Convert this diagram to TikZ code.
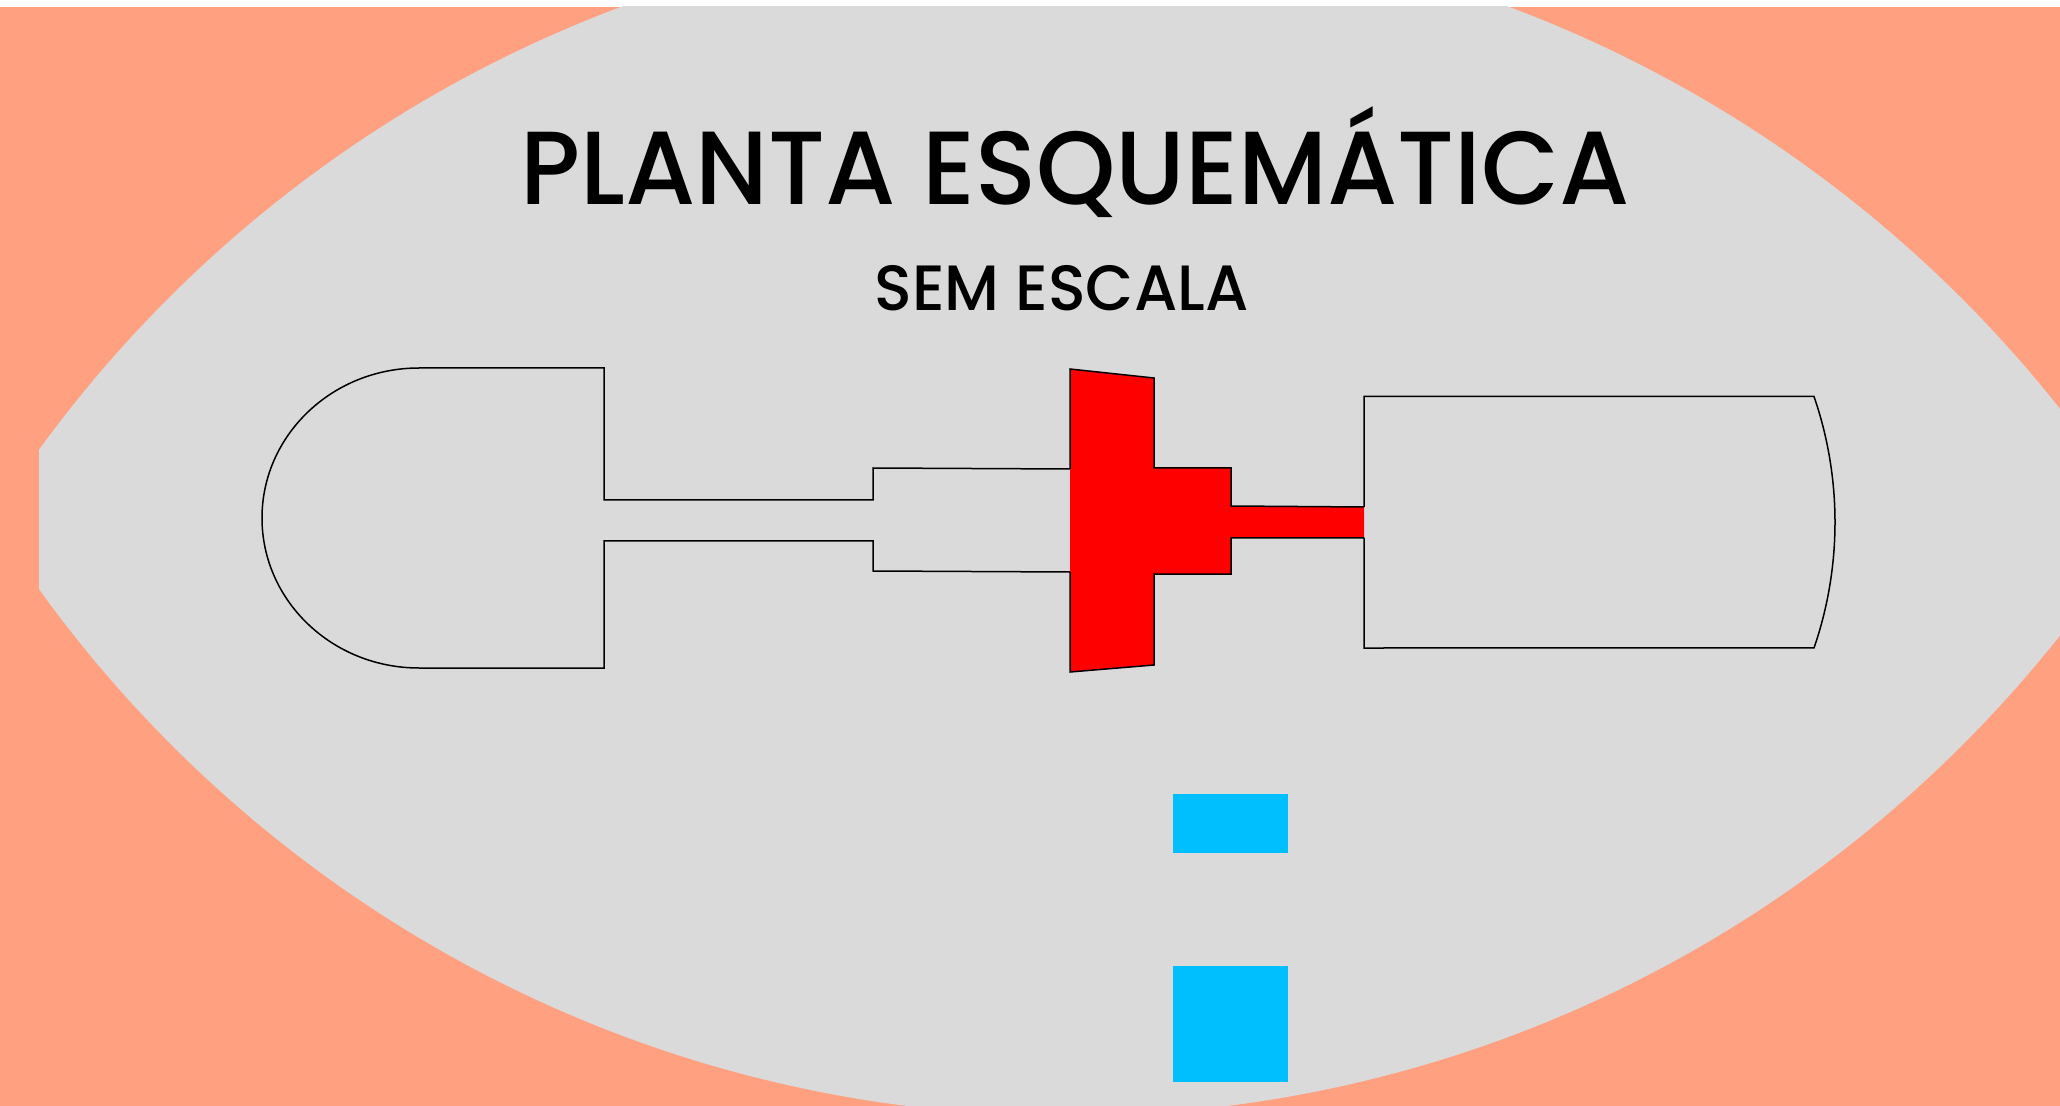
\documentclass[tikz,border=0pt]{standalone}
\usepackage{fontspec}
\usepackage{graphicx}
\newfontfamily\titlefont{Poppins Medium}
\definecolor{salmonbg}{HTML}{FFA080}
\definecolor{lensgray}{HTML}{DADADA}
\definecolor{poolblue}{HTML}{00BFFF}
\definecolor{housered}{HTML}{FF0000}
\tikzset{
  outline/.style={draw=black,line width=0.75pt,line join=miter},
  pool/.style={fill=poolblue,draw=none},
}
\begin{document}
\begin{tikzpicture}[x=0.5pt,y=-0.5pt]
\useasboundingbox (0,0) rectangle (2060,1106);
\fill[white] (0,0) rectangle (2060,1106);
\fill[salmonbg] (0,7) rectangle (2060,1106);
\begin{scope}
  \clip (39,7) rectangle (2060,1106);
  \clip (1065,1195) circle [radius=1268];
  \fill[lensgray] (1067,-150) circle [radius=1266];
\end{scope}
% left volume
\draw[outline] (419,368) -- (604,368) -- (604,500) -- (873,500) -- (873,468) -- (1070,469);
\draw[outline] (1070,572) -- (873,571) -- (873,541) -- (604,541) -- (604,668) -- (419,668)
  arc [start angle=90,end angle=270,x radius=157,y radius=150];
% right volume
\draw[outline] (1364,507) -- (1364,396.5) -- (1814,396.5) arc [start angle=-18.96,end angle=18.96,radius=387] -- (1364,648) -- (1364,538);
% red volume
\fill[housered] (1070,369) -- (1154,378) -- (1154,468) -- (1231,468) -- (1231,506) -- (1364,507) -- (1364,538) -- (1231,538) -- (1231,574) -- (1154,574) -- (1154,665) -- (1070,672) -- cycle;
\draw[outline] (1070,469) -- (1070,369) -- (1154,378) -- (1154,468) -- (1231,468) -- (1231,506) -- (1364,507);
\draw[outline] (1364,538) -- (1231,538) -- (1231,574) -- (1154,574) -- (1154,665) -- (1070,672) -- (1070,572);
% pools
\fill[pool] (1173,794) rectangle (1288,853);
\fill[pool] (1173,966) rectangle (1288,1082);
% text
\node[anchor=base west,inner sep=0pt] (title) at (520,205) {\resizebox{554.6pt}{\height}{\titlefont\fontsize{52}{60}\selectfont PLANTA ESQUEMÁTICA}};
\node[anchor=base west,inner sep=0pt] (sub) at (874,311) {\resizebox{187pt}{\height}{\titlefont\fontsize{32}{38}\selectfont SEM ESCALA}};
\end{tikzpicture}
\end{document}
